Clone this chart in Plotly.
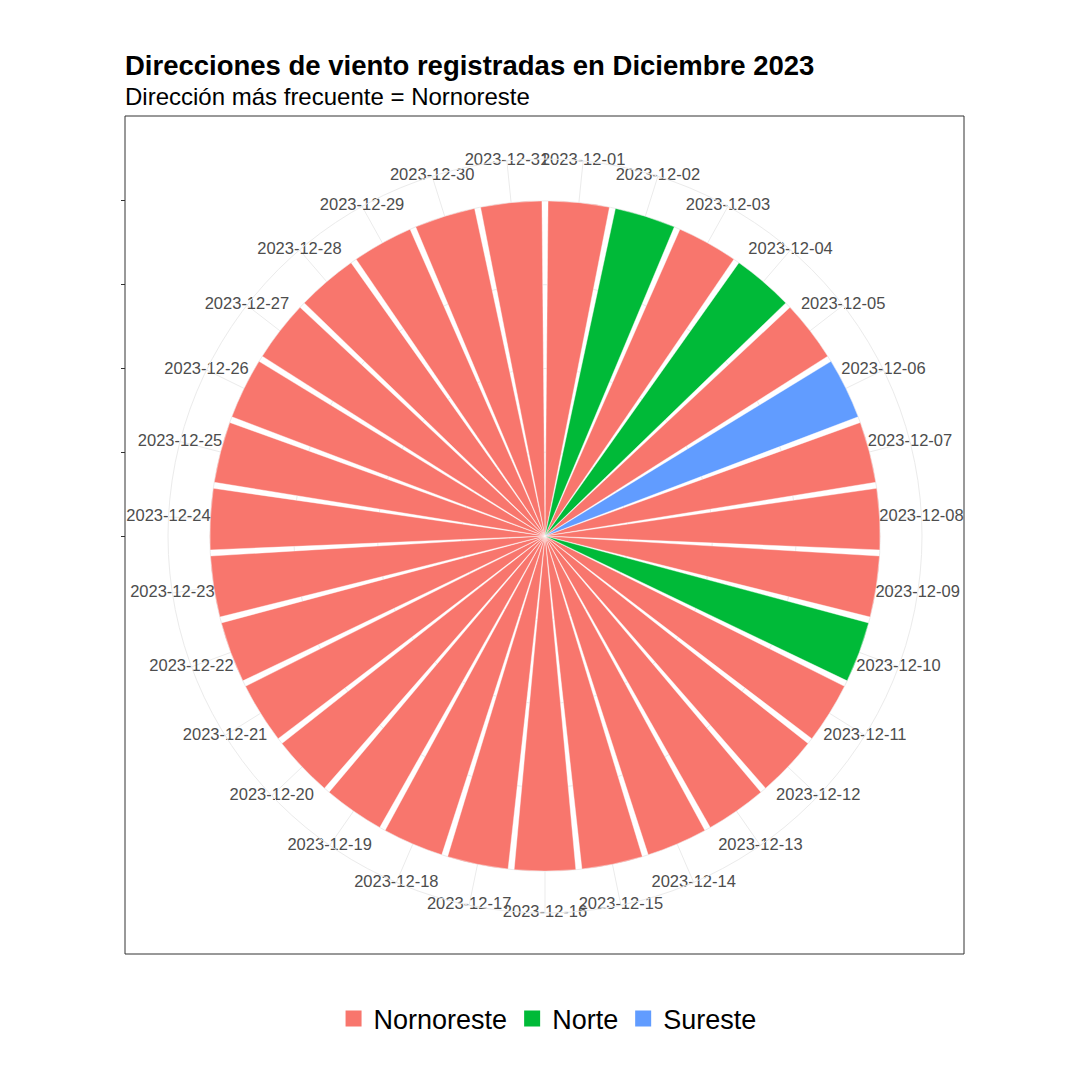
import plotly.graph_objects as go

dates = ["2023-12-01", "2023-12-02", "2023-12-03", "2023-12-04", "2023-12-05",
         "2023-12-06", "2023-12-07", "2023-12-08", "2023-12-09", "2023-12-10",
         "2023-12-11", "2023-12-12", "2023-12-13", "2023-12-14", "2023-12-15",
         "2023-12-16", "2023-12-17", "2023-12-18", "2023-12-19", "2023-12-20",
         "2023-12-21", "2023-12-22", "2023-12-23", "2023-12-24", "2023-12-25",
         "2023-12-26", "2023-12-27", "2023-12-28", "2023-12-29", "2023-12-30",
         "2023-12-31"]
direccion = ["Nornoreste", "Norte", "Nornoreste", "Norte", "Nornoreste",
             "Sureste", "Nornoreste", "Nornoreste", "Nornoreste", "Norte",
             "Nornoreste", "Nornoreste", "Nornoreste", "Nornoreste", "Nornoreste",
             "Nornoreste", "Nornoreste", "Nornoreste", "Nornoreste", "Nornoreste",
             "Nornoreste", "Nornoreste", "Nornoreste", "Nornoreste", "Nornoreste",
             "Nornoreste", "Nornoreste", "Nornoreste", "Nornoreste", "Nornoreste",
             "Nornoreste"]
conteo = [1, 1, 1, 1, 1, 1, 1, 1, 1, 1, 1, 1, 1, 1, 1, 1, 1, 1, 1, 1,
          1, 1, 1, 1, 1, 1, 1, 1, 1, 1, 1]
niveles = ["Nornoreste", "Norte", "Sureste"]
colores = {"Nornoreste": "#F8766D", "Norte": "#00BA38", "Sureste": "#619CFF"}
r_ticks = [0, 0.25, 0.5, 0.75, 1]
titulo = "Direcciones de viento registradas en Diciembre 2023"
subtitulo = "Dirección más frecuente = Nornoreste"

W = H = 1080
n = len(dates)
step = 360.0 / n
theta_c = [(i + 0.5) * step for i in range(n)]
r_max = 1.125  # label ring (0.45 / 0.4)

# layout geometry (pixels)
cx, cy_top = 545, 536
R = 377
px_dom = [(cx - R) / W, (cx + R) / W]
cy_bot = H - cy_top
py_dom = [(cy_bot - R) / H, (cy_bot + R) / H]

fig = go.Figure()

for lev in niveles:
    idx = [i for i, d in enumerate(direccion) if d == lev]
    fig.add_trace(go.Barpolar(
        r=[conteo[i] for i in idx],
        theta=[theta_c[i] for i in idx],
        width=[step * 0.91 for _ in idx],
        marker=dict(color=colores[lev], line=dict(color="white", width=0.4)),
        name=lev, showlegend=False, hoverinfo="skip"))

# labels around the ring
fig.add_trace(go.Scatterpolar(
    r=[r_max] * n, theta=theta_c, text=dates, mode="text",
    textfont=dict(family="Liberation Sans, Arial", size=16.5, color="#4D4D4D"),
    cliponaxis=False, showlegend=False, hoverinfo="skip"))

# legend entries
for lev in niveles:
    fig.add_trace(go.Scatterpolar(
        r=[None], theta=[None], mode="markers", name=lev,
        marker=dict(symbol="square", size=16, color=colores[lev]),
        showlegend=True, hoverinfo="skip"))

# hidden cartesian axis to carry radial ticks on the left edge
fig.add_trace(go.Scatter(x=[None], y=[None], showlegend=False, hoverinfo="skip"))

fig.update_layout(
    width=W, height=H,
    margin=dict(l=0, r=0, t=0, b=0),
    paper_bgcolor="white", plot_bgcolor="rgba(0,0,0,0)",
    font=dict(family="Liberation Sans, Arial", color="black"),
    annotations=[
        dict(text="<b>" + titulo + "</b>", xref="paper", yref="paper",
             x=123 / W, xanchor="left", y=1 - 83 / H, yanchor="bottom",
             showarrow=False, font=dict(size=27.5, color="black")),
        dict(text=subtitulo, xref="paper", yref="paper",
             x=123 / W, xanchor="left", y=1 - 112 / H, yanchor="bottom",
             showarrow=False, font=dict(size=24, color="black")),
    ],
    polar=dict(
        domain=dict(x=px_dom, y=py_dom),
        bgcolor="white",
        barmode="overlay",
        radialaxis=dict(range=[0, r_max], tickvals=r_ticks, showticklabels=False,
                        ticks="", showline=False, gridcolor="#EBEBEB", gridwidth=1),
        angularaxis=dict(direction="clockwise", rotation=90, tickvals=theta_c,
                         showticklabels=False, ticks="", showline=True,
                         linecolor="#EBEBEB", linewidth=1,
                         gridcolor="#EBEBEB", gridwidth=1),
    ),
    xaxis=dict(visible=False, domain=[px_dom[0], px_dom[1]]),
    yaxis=dict(domain=py_dom, range=[-r_max, r_max], tickvals=r_ticks,
               anchor="free", position=125 / W, side="left",
               ticks="outside", ticklen=4, tickcolor="#333333", tickwidth=1,
               showticklabels=False, showgrid=False, zeroline=False, showline=False),
    legend=dict(orientation="h", x=0.507, xanchor="center",
                y=(H - 1019) / H, yanchor="middle",
                font=dict(size=27, color="black"), itemwidth=30,
                bgcolor="rgba(0,0,0,0)"),
    shapes=[dict(type="rect", xref="paper", yref="paper",
                 x0=125 / W, x1=964 / W, y0=1 - 954 / H, y1=1 - 116 / H,
                 line=dict(color="#333333", width=1), fillcolor="rgba(0,0,0,0)",
                 layer="above")],
)

fig.write_html("out.html")
